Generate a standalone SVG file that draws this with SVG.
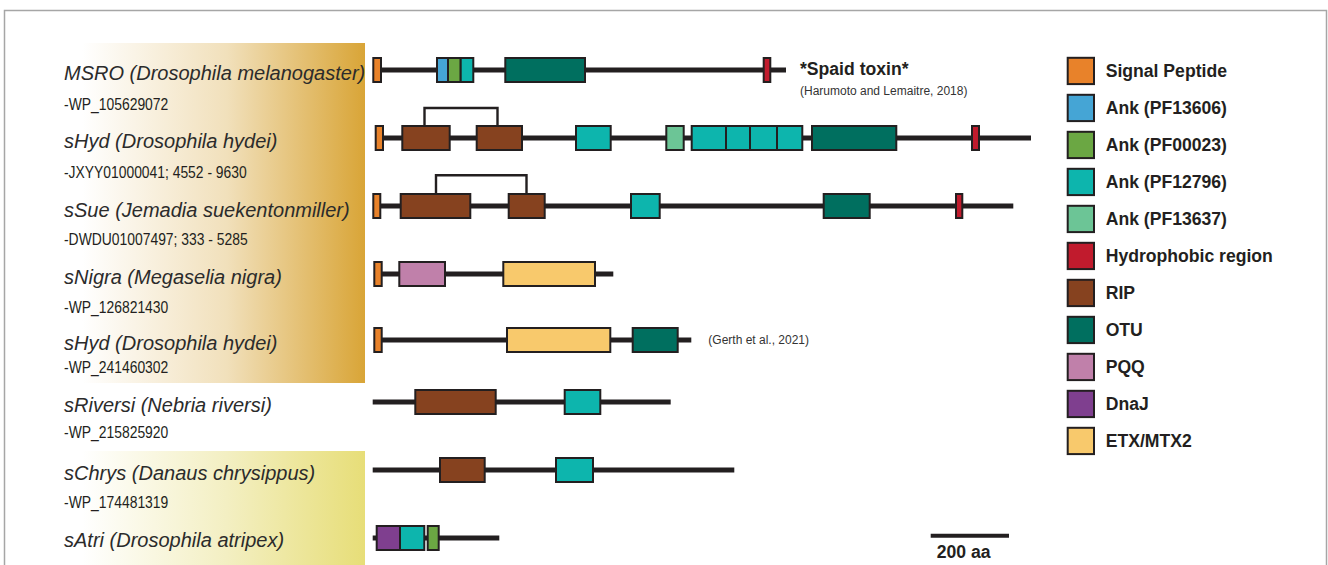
<svg xmlns="http://www.w3.org/2000/svg" width="1328" height="565" viewBox="0 0 1328 565">
<defs>
<linearGradient id="gold" x1="0" y1="0" x2="1" y2="0">
<stop offset="0" stop-color="#ffffff"/>
<stop offset="0.18" stop-color="#ffffff"/>
<stop offset="0.6" stop-color="#f1e0bb"/>
<stop offset="1" stop-color="#d9a537"/>
</linearGradient>
<linearGradient id="yel" x1="0" y1="0" x2="1" y2="0">
<stop offset="0" stop-color="#ffffff"/>
<stop offset="0.18" stop-color="#ffffff"/>
<stop offset="0.6" stop-color="#f3efc2"/>
<stop offset="1" stop-color="#e7de78"/>
</linearGradient>
<style>
.title{font-family:"Liberation Sans",Arial,sans-serif;font-style:italic;font-size:20px;fill:#2b2b2b}
.sub{font-family:"Liberation Sans",Arial,sans-serif;font-size:16px;fill:#231f20}
.ref{font-family:"Liberation Sans",Arial,sans-serif;font-size:12px;fill:#333}
.bold{font-family:"Liberation Sans",Arial,sans-serif;font-weight:bold;font-size:17.6px;fill:#231f20}
.bb{stroke:#231f20;stroke-width:5;fill:none}
.br{stroke:#231f20;stroke-width:2.4;fill:none}
.d{stroke:#231f20;stroke-width:2}
.sp{fill:#e8822a}.a1{fill:#45a5d5}.a2{fill:#6ba743}.a3{fill:#0db5ad}.a4{fill:#6cc596}
.hy{fill:#c11b2d}.rip{fill:#86421f}.otu{fill:#006f5f}.pqq{fill:#c080aa}.dnaj{fill:#7f3f8f}.etx{fill:#f8c96c}
</style>
</defs>
<rect x="0" y="0" width="1328" height="565" fill="#ffffff"/>
<rect x="4.5" y="10.5" width="1322" height="600" fill="none" stroke="#a6a6a6" stroke-width="1.5"/>
<rect x="20" y="43" width="345" height="340" fill="url(#gold)"/>
<rect x="20" y="451" width="345" height="120" fill="url(#yel)"/>

<g id="labels">
<text class="title" x="64" y="80">MSRO (Drosophila melanogaster)</text>
<text class="sub" x="64" y="109.5" textLength="104.3" lengthAdjust="spacingAndGlyphs">-WP_105629072</text>
<text class="title" x="64" y="148">sHyd (Drosophila hydei)</text>
<text class="sub" x="64" y="178" textLength="182.7" lengthAdjust="spacingAndGlyphs">-JXYY01000041; 4552 - 9630</text>
<text class="title" x="64" y="217">sSue (Jemadia suekentonmiller)</text>
<text class="sub" x="64" y="244.7" textLength="183.7" lengthAdjust="spacingAndGlyphs">-DWDU01007497; 333 - 5285</text>
<text class="title" x="64" y="284">sNigra (Megaselia nigra)</text>
<text class="sub" x="64" y="312.7" textLength="104.3" lengthAdjust="spacingAndGlyphs">-WP_126821430</text>
<text class="title" x="64" y="350">sHyd (Drosophila hydei)</text>
<text class="sub" x="64" y="372.7" textLength="104.3" lengthAdjust="spacingAndGlyphs">-WP_241460302</text>
<text class="title" x="64" y="412">sRiversi (Nebria riversi)</text>
<text class="sub" x="64" y="437.7" textLength="104.3" lengthAdjust="spacingAndGlyphs">-WP_215825920</text>
<text class="title" x="64" y="480">sChrys (Danaus chrysippus)</text>
<text class="sub" x="64" y="508.3" textLength="104.3" lengthAdjust="spacingAndGlyphs">-WP_174481319</text>
<text class="title" x="64" y="547">sAtri (Drosophila atripex)</text>
</g>

<g id="connectors">
<path class="bb" d="M375 70H786"/>
<path class="bb" d="M378 138H1031"/>
<path class="bb" d="M375 206H1013.3"/>
<path class="bb" d="M376 274H613.3"/>
<path class="bb" d="M376 340H691.3"/>
<path class="bb" d="M372.7 402H670.7"/>
<path class="bb" d="M372.7 470H734.3"/>
<path class="bb" d="M372.7 538H499.3"/>
<path class="br" d="M424.5 126V108H497.5V126"/>
<path class="br" d="M436 194V175.2H526.5V194"/>
</g>

<g id="row1">
<rect class="d sp" x="373.3" y="58" width="7.7" height="24"/>
<rect class="d a1" x="437" y="58" width="11" height="24"/>
<rect class="d a2" x="448" y="58" width="12.7" height="24"/>
<rect class="d a3" x="460.7" y="58" width="12.6" height="24"/>
<rect class="d otu" x="505.3" y="58" width="79.7" height="24"/>
<rect class="d hy" x="763.7" y="58" width="6.6" height="24"/>
<text class="bold" x="800" y="75" font-size="18">*Spaid toxin*</text>
<text class="ref" x="800" y="95">(Harumoto and Lemaitre, 2018)</text>
</g>

<g id="row2">
<rect class="d sp" x="375.7" y="126" width="7.3" height="24"/>
<rect class="d rip" x="402.3" y="126" width="47.4" height="24"/>
<rect class="d rip" x="476.7" y="126" width="45.3" height="24"/>
<rect class="d a3" x="576" y="126" width="34.7" height="24"/>
<rect class="d a4" x="666.3" y="126" width="17.4" height="24"/>
<rect class="d a3" x="691.7" y="126" width="34.3" height="24"/>
<rect class="d a3" x="726" y="126" width="24" height="24"/>
<rect class="d a3" x="750" y="126" width="27" height="24"/>
<rect class="d a3" x="777" y="126" width="25.3" height="24"/>
<rect class="d otu" x="812" y="126" width="84.3" height="24"/>
<rect class="d hy" x="972" y="126" width="7" height="24"/>
</g>

<g id="row3">
<rect class="d sp" x="373.3" y="194" width="7" height="24"/>
<rect class="d rip" x="400.7" y="194" width="69.6" height="24"/>
<rect class="d rip" x="508.7" y="194" width="36" height="24"/>
<rect class="d a3" x="631" y="194" width="28.7" height="24"/>
<rect class="d otu" x="823.7" y="194" width="46" height="24"/>
<rect class="d hy" x="956" y="194" width="6.3" height="24"/>
</g>

<g id="row4">
<rect class="d sp" x="374.3" y="262" width="7.4" height="24"/>
<rect class="d pqq" x="399.3" y="262" width="45.7" height="24"/>
<rect class="d etx" x="503.3" y="262" width="91.7" height="24"/>
</g>

<g id="row5">
<rect class="d sp" x="374.3" y="328" width="7.4" height="24"/>
<rect class="d etx" x="507" y="328" width="103.3" height="24"/>
<rect class="d otu" x="632.7" y="328" width="45" height="24"/>
<text class="ref" x="708.3" y="344">(Gerth et al., 2021)</text>
</g>

<g id="row6">
<rect class="d rip" x="415.3" y="390" width="80.4" height="24"/>
<rect class="d a3" x="564.7" y="390" width="35.6" height="24"/>
</g>

<g id="row7">
<rect class="d rip" x="440" y="458" width="44.7" height="24"/>
<rect class="d a3" x="556" y="458" width="37" height="24"/>
</g>

<g id="row8">
<rect class="d dnaj" x="376.7" y="526" width="23.3" height="24"/>
<rect class="d a3" x="400" y="526" width="24.3" height="24"/>
<rect class="d a2" x="427.7" y="526" width="11" height="24"/>
</g>

<g id="scalebar">
<path d="M930.7 535.7H1009" stroke="#231f20" stroke-width="4"/>
<text class="bold" x="936.7" y="558.3" font-size="19.5">200 aa</text>
</g>

<g id="legend">
<rect class="d sp" x="1067.7" y="57.8" width="26.3" height="26.3"/>
<text class="bold" x="1105.7" y="77">Signal Peptide</text>
<rect class="d a1" x="1067.7" y="94.8" width="26.3" height="26.3"/>
<text class="bold" x="1105.7" y="114">Ank (PF13606)</text>
<rect class="d a2" x="1067.7" y="131.8" width="26.3" height="26.3"/>
<text class="bold" x="1105.7" y="151">Ank (PF00023)</text>
<rect class="d a3" x="1067.7" y="168.8" width="26.3" height="26.3"/>
<text class="bold" x="1105.7" y="188">Ank (PF12796)</text>
<rect class="d a4" x="1067.7" y="205.8" width="26.3" height="26.3"/>
<text class="bold" x="1105.7" y="225">Ank (PF13637)</text>
<rect class="d hy" x="1067.7" y="242.8" width="26.3" height="26.3"/>
<text class="bold" x="1105.7" y="262">Hydrophobic region</text>
<rect class="d rip" x="1067.7" y="279.8" width="26.3" height="26.3"/>
<text class="bold" x="1105.7" y="299">RIP</text>
<rect class="d otu" x="1067.7" y="316.8" width="26.3" height="26.3"/>
<text class="bold" x="1105.7" y="336">OTU</text>
<rect class="d pqq" x="1067.7" y="353.8" width="26.3" height="26.3"/>
<text class="bold" x="1105.7" y="373">PQQ</text>
<rect class="d dnaj" x="1067.7" y="390.8" width="26.3" height="26.3"/>
<text class="bold" x="1105.7" y="410">DnaJ</text>
<rect class="d etx" x="1067.7" y="427.8" width="26.3" height="26.3"/>
<text class="bold" x="1105.7" y="447">ETX/MTX2</text>
</g>
</svg>
